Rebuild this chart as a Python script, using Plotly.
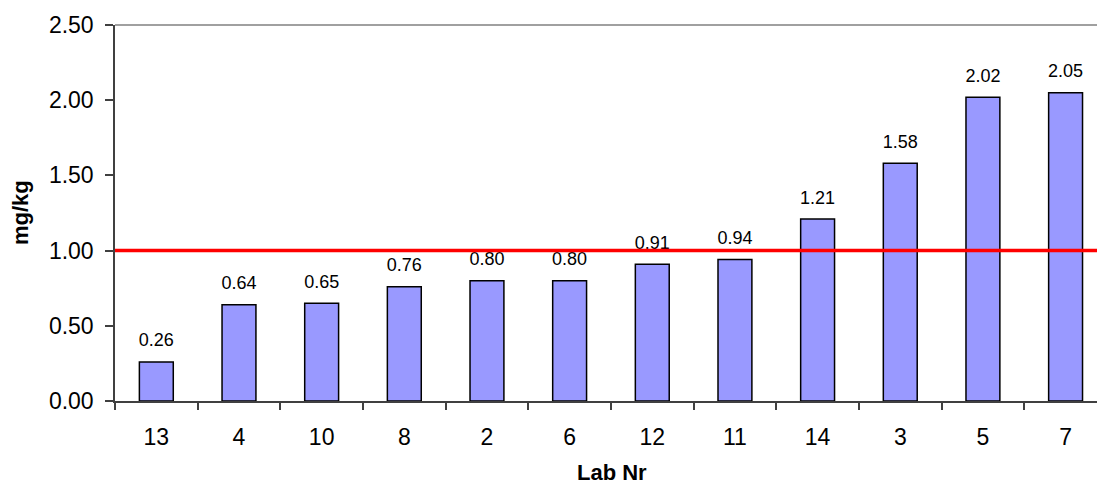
import plotly.graph_objects as go

labs = ["13", "4", "10", "8", "2", "6", "12", "11", "14", "3", "5", "7"]
values = [0.26, 0.64, 0.65, 0.76, 0.80, 0.80, 0.91, 0.94, 1.21, 1.58, 2.02, 2.05]
value_text = ["0.26", "0.64", "0.65", "0.76", "0.80", "0.80", "0.91", "0.94", "1.21", "1.58", "2.02", "2.05"]
reference_value = 1.0
y_ticks = [0.0, 0.5, 1.0, 1.5, 2.0, 2.5]
y_tick_text = ["0.00", "0.50", "1.00", "1.50", "2.00", "2.50"]

font_family = "Liberation Sans, Arial, sans-serif"
xs = list(range(len(labs)))

fig = go.Figure()
fig.add_trace(go.Bar(
    x=xs,
    y=values,
    width=0.41,
    marker=dict(color="#9999FF", line=dict(color="black", width=1.5)),
    hoverinfo="skip",
))
# value labels (as a trace so the reference line is drawn above them)
fig.add_trace(go.Scatter(
    x=xs, y=values, mode="markers+text", text=value_text,
    textposition="top center",
    marker=dict(size=16, opacity=0),
    textfont=dict(size=18, color="black", family=font_family),
    hoverinfo="skip", showlegend=False,
))

# reference line
fig.add_shape(type="line", xref="paper", x0=0, x1=1, yref="y", y0=reference_value, y1=reference_value,
              line=dict(color="#FF0000", width=3.5), layer="above")
# top border
fig.add_shape(type="line", xref="paper", x0=0, x1=1, yref="paper", y0=1, y1=1,
              line=dict(color="#808080", width=1.5))

# axis titles
fig.add_annotation(text="<b>mg/kg</b>", textangle=-90, showarrow=False,
                   xref="paper", yref="paper", x=-(115 - 20) / 982, y=0.5,
                   xanchor="center", yanchor="middle", borderpad=0,
                   font=dict(size=22, family=font_family, color="black"))
fig.add_annotation(text="<b>Lab Nr</b>", showarrow=False,
                   xref="paper", yref="paper", x=(612 - 115) / 982, y=-(471 - 400) / 375,
                   xanchor="center", yanchor="middle", borderpad=0,
                   font=dict(size=22, family=font_family, color="black"))

fig.update_layout(
    width=1097, height=486,
    margin=dict(l=115, r=0, t=25, b=85),
    plot_bgcolor="white", paper_bgcolor="white",
    showlegend=False,
    font=dict(family=font_family, color="black"),
    xaxis=dict(
        range=[-0.5, 11.38],
        tickmode="array", tickvals=xs, ticktext=labs,
        ticks="", showgrid=False, zeroline=False,
        showline=False, ticklabelstandoff=20,
        tickfont=dict(size=23),
    ),
    yaxis=dict(
        range=[0, 2.5],
        tickmode="array", tickvals=y_ticks, ticktext=y_tick_text,
        ticks="outside", ticklen=8, tickwidth=1.5, tickcolor="#404040",
        showline=True, linecolor="#404040", linewidth=1.5,
        showgrid=False, zeroline=False, ticklabelstandoff=7,
        tickfont=dict(size=23),
    ),
    xaxis2=dict(
        overlaying="x", side="bottom", range=[-0.5, 11.38],
        tickmode="array", tickvals=[i - 0.5 for i in range(len(labs) + 1)],
        ticktext=["" for _ in range(len(labs) + 1)],
        ticks="outside", ticklen=7, tickwidth=1.5, tickcolor="#404040",
        showline=True, linecolor="#404040", linewidth=1.5,
        showgrid=False, zeroline=False, anchor="y",
    ),
)
fig.add_trace(go.Scatter(x=[None], y=[None], xaxis="x2", yaxis="y", showlegend=False))

fig.write_html("out.html")
